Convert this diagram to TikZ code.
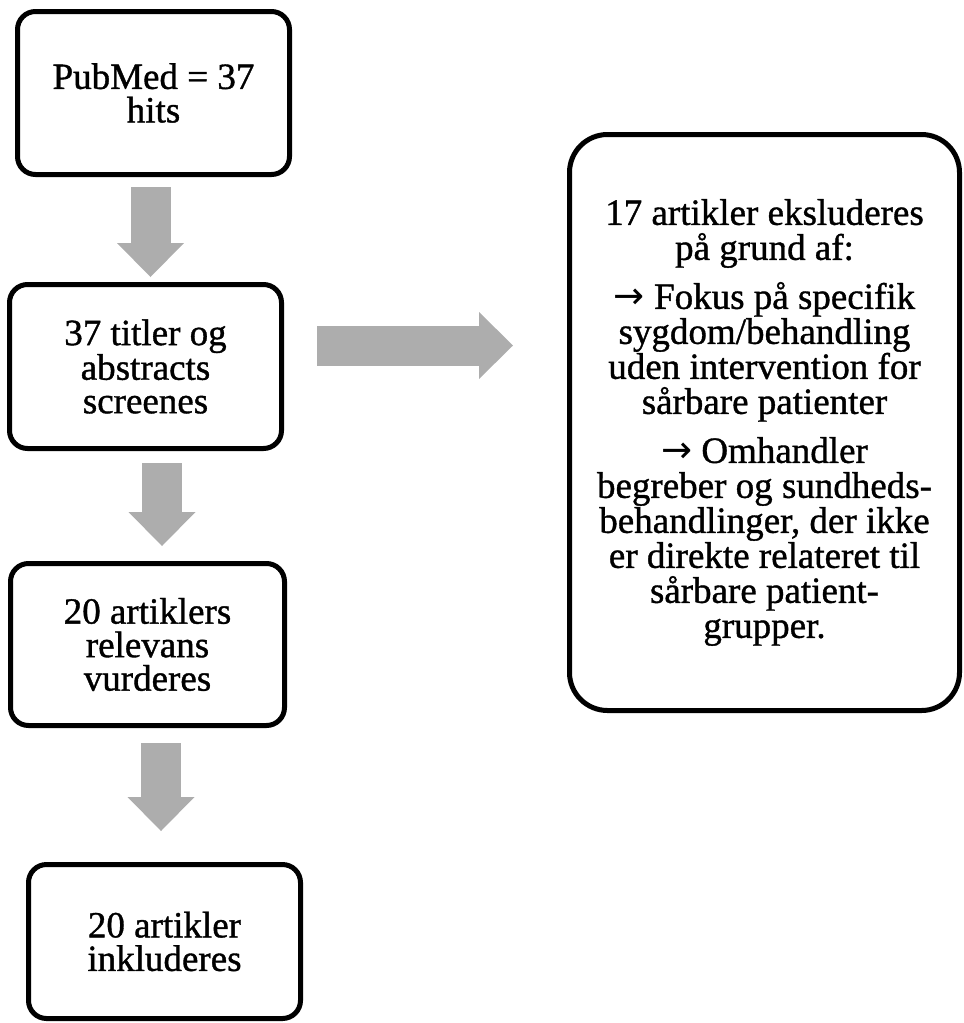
\documentclass[tikz,border=0pt]{standalone}
\usepackage{fontspec}
\setmainfont[FakeBold=1]{Liberation Serif}
\newfontfamily\arrowfont{DejaVu Sans}
\newcommand\pilto{{\arrowfont →}}
\usepackage{tikz}
\usetikzlibrary{positioning,arrows.meta}
\definecolor{arrowgray}{RGB}{173,173,173}
\begin{document}
\begin{tikzpicture}[%
        x=1pt, y=-1pt,
        every node/.style={font=\fontsize{37}{33.5}\selectfont, align=center, inner sep=0pt, outer sep=0pt},
        box/.style={draw, line width=5pt, rounded corners=18pt, minimum width=272pt, minimum height=163pt},
        bigbox/.style={box, rounded corners=38pt, minimum width=390pt, minimum height=576pt, font=\fontsize{37}{35}\selectfont},
        flow/.style={draw=arrowgray, line width=40pt, -{Triangle[width=67pt,length=34pt,line width=0pt]}},
        node distance=110pt
      ]
      \useasboundingbox (0,0) rectangle (964,1023);
      \node [box] (pubmed) at (153.5,93) {PubMed = 37\\hits};
      \node [box, below=of pubmed, xshift=-8pt, minimum height=164pt] (screen) {37 titler og\\abstracts\\screenes};
      \node [box, below=115pt of screen, xshift=2pt, minimum width=274pt, minimum height=162pt] (relevans) {20 artiklers\\relevans\\vurderes};
      \node [box, below=139pt of relevans, xshift=17pt, minimum height=154pt] (inkl) {20 artikler\\inkluderes};
      \node [bigbox, right=288pt of screen, yshift=-56pt] (eksl) {17 artikler eksluderes\\på grund af:\\[14pt]
        \pilto{} Fokus på specifik\\sygdom/behandling\\uden intervention for\\sårbare patienter\\[14pt]
        \pilto{} Omhandler\\begreber og sundheds-\\behandlinger, der ikke\\er direkte relateret til\\sårbare patient-\\grupper.};
      \draw [flow] ([xshift=-3pt,yshift=-12.5pt]pubmed.south) -- ([xshift=5pt,yshift=7.5pt]screen.north);
      \draw [flow] ([xshift=16.5pt,yshift=-14.5pt]screen.south) -- ([xshift=14.5pt,yshift=17.5pt]relevans.north);
      \draw [flow] ([xshift=13.5pt,yshift=-17.5pt]relevans.south) -- ([xshift=-3.5pt,yshift=33.5pt]inkl.north);
      \draw [flow] ([xshift=35.5pt,yshift=21pt]screen.east) -- ([xshift=-56.5pt,yshift=77pt]eksl.west);
    \end{tikzpicture}
\end{document}
